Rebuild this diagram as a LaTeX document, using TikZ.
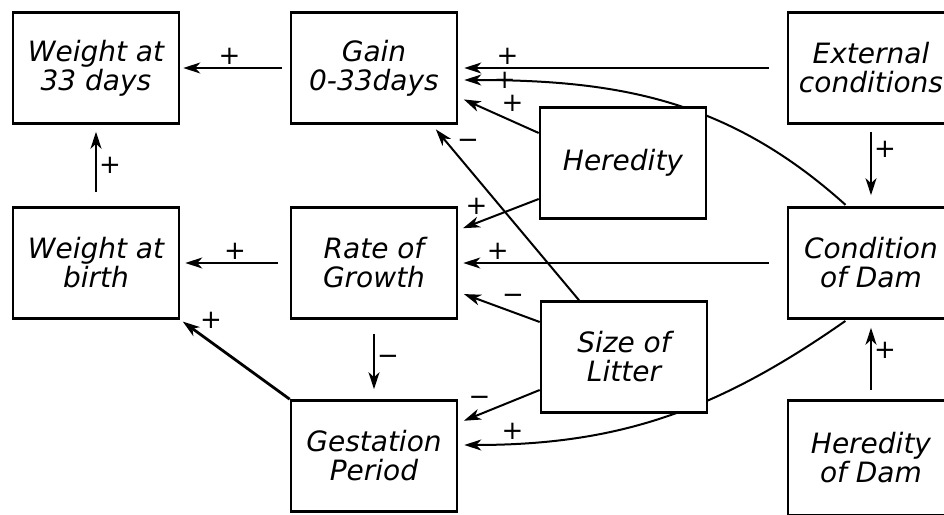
\documentclass[tikz,border=0pt]{standalone}
\usepackage{fontspec}
\setmainfont{DejaVu Sans}
\usetikzlibrary{arrows.meta}
\usetikzlibrary{positioning}
\usetikzlibrary{backgrounds}

\begin{document}
\begin{tikzpicture}[->,>={Stealth[length=17pt,width=11pt,inset=5pt]},x=1pt,y=1pt,on grid,auto=right,
	link/.style={line width=2pt},
	box/.style={rectangle, draw, line width=2.6pt, fill=white, minimum width=166pt, minimum height=111pt, align=center, font=\fontsize{28}{29}\selectfont\itshape},
	sign/.style={font=\fontsize{26}{26}\selectfont, inner sep=2pt}]
	\path[use as bounding box, clip] (0,0) rectangle (944,514);

	\node[box] (w33) at (96,446) {Weight at\\33 days};
	\node[box] (gain) [right=278pt of w33] {Gain\\0-33days};
	\node[box] (ext) [right=497pt of gain] {External\\conditions};
	\node[box] (her) [below right=95pt and 249pt of gain] {Heredity};
	\node[box] (wbirth) [below=195pt of w33] {Weight at\\birth};
	\node[box] (rate) [right=278pt of wbirth] {Rate of\\Growth};
	\node[box] (cond) [below=195pt of ext] {Condition\\of Dam};
	\node[box] (size) [below right=94pt and 250pt of rate] {Size of\\Litter};
	\node[box] (gest) [below=193pt of rate] {Gestation\\Period};
	\node[box, minimum height=115pt] (hdam) [below=195pt of cond] {Heredity\\of Dam};

	\draw[link, shorten <=8pt, shorten >=3pt] (gain) to node[sign, pos=0.55] {+} (w33);
	\draw[link, shorten <=14pt, shorten >=7pt] (wbirth) to node[sign] {+} (w33);
	\draw[link, shorten <=12pt, shorten >=5pt] (rate) to node[sign] {+} (wbirth);
	\draw[link, line width=2.8pt, shorten >=3pt] (gest.north west) to node[sign, pos=0.85] {+} (wbirth.south east);
	\draw[link, shorten <=14pt, shorten >=10pt] (rate) to node[sign, swap] {−} (gest);

	\draw[link, shorten <=18pt, shorten >=6pt] (ext) to node[sign, pos=0.85] {+} (gain);
	\draw[link, shorten >=6pt] ([yshift=30pt]her.west) to node[sign, pos=0.5] {+} ([yshift=-29pt]gain.east);
	\draw[link, shorten >=6pt] ([xshift=-45pt]size.north) to node[sign, pos=0.85] {−} ([xshift=58pt]gain.south);
	\draw[link, shorten >=5pt] ([yshift=-36pt]her.west) to node[sign, pos=0.6] {+} ([yshift=33pt]rate.east);
	\draw[link, shorten <=18pt, shorten >=5pt] (cond) to node[sign, pos=0.88] {+} (rate);
	\draw[link, shorten >=6pt] ([yshift=35pt]size.west) to node[sign, pos=0.5] {−} ([yshift=-29pt]rate.east);
	\draw[link, shorten >=6pt] ([yshift=-33pt]size.west) to node[sign, pos=0.57] {−} ([yshift=33pt]gest.east);
	\draw[link, shorten <=7pt, shorten >=11pt] (ext) to node[sign, swap, pos=0.3] {+} (cond);
	\draw[link, shorten <=9pt, shorten >=8pt] (hdam) to node[sign, pos=0.62] {+} (cond);

	% curves from the dam pass behind the boxes
	\begin{pgfonlayer}{background}
		\draw[link, shorten <=2pt, shorten >=6pt] ([xshift=-24pt]cond.north) to[out=138,in=0] node[sign, pos=0.9, anchor=center] {+} ([yshift=-12pt]gain.east);
		\draw[link, shorten <=2pt, shorten >=6pt] ([xshift=-24pt]cond.south) to[out=215,in=0] node[sign, pos=0.85] {+} ([yshift=11pt]gest.east);
	\end{pgfonlayer}
\end{tikzpicture}
\end{document}
